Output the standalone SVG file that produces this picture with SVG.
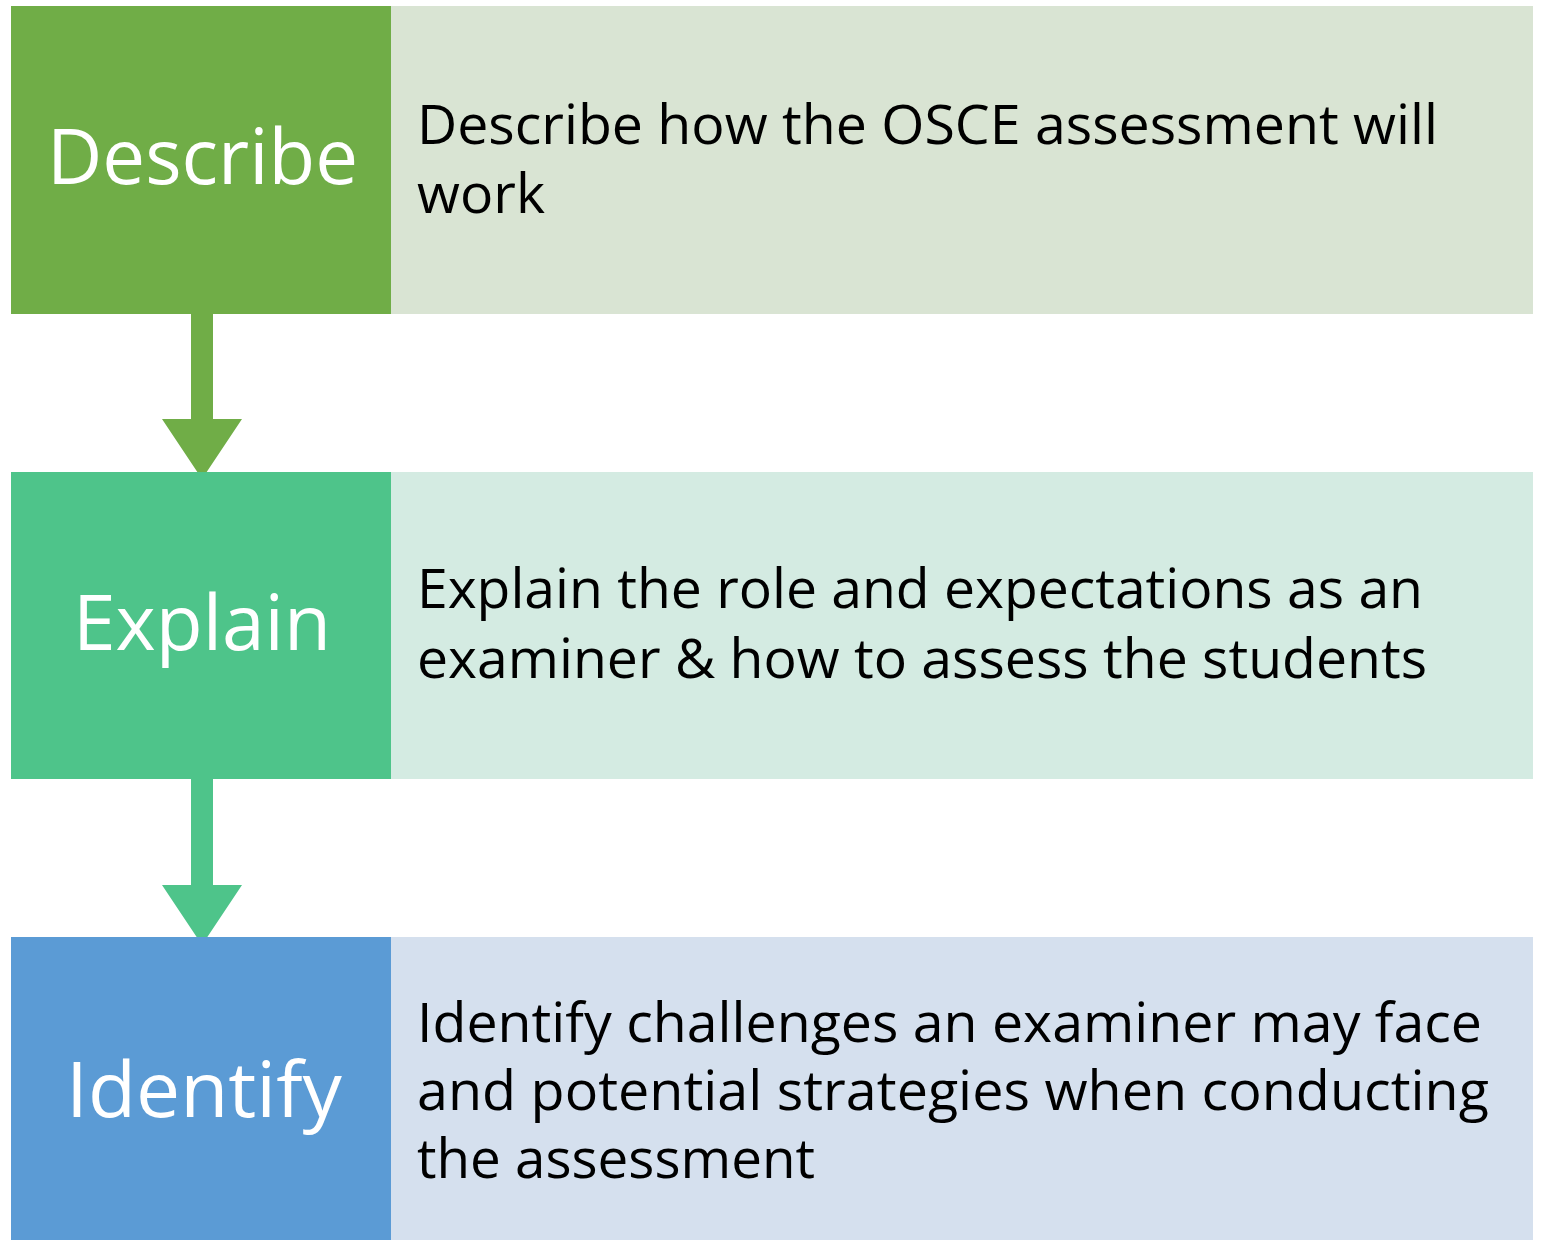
<svg xmlns="http://www.w3.org/2000/svg" width="1545" height="1240" viewBox="0 0 1545 1240">
<style>
.lbl{font-family:"Open Sans","Noto Sans",sans-serif;font-size:77px;fill:#ffffff}
.txt{font-family:"Open Sans","Noto Sans",sans-serif;font-size:55px;fill:#000000}
</style>
<rect width="1545" height="1240" fill="#ffffff"/>
<g id="connectors">
<path d="M191 314 V419 H162 L202 479 L242 419 H213 V314 Z" fill="#70AD47"/>
<path d="M191 779 V885 H162 L202 945 L242 885 H213 V779 Z" fill="#4EC48A"/>
</g>
<g id="node-describe">
<rect x="391" y="6" width="1142" height="308" fill="#D9E4D3"/>
<rect x="11" y="6" width="380" height="308" fill="#70AD47"/>
<text class="lbl" x="47" y="184" textLength="311" lengthAdjust="spacingAndGlyphs">Describe</text>
<text class="txt" x="417" y="144" textLength="1021" lengthAdjust="spacingAndGlyphs">Describe how the OSCE assessment will</text>
<text class="txt" x="417" y="213" textLength="128" lengthAdjust="spacingAndGlyphs">work</text>
</g>
<g id="node-explain">
<rect x="391" y="472" width="1142" height="307" fill="#D4EBE2"/>
<rect x="11" y="472" width="380" height="307" fill="#4EC48A"/>
<text class="lbl" x="73" y="650" textLength="258" lengthAdjust="spacingAndGlyphs">Explain</text>
<text class="txt" x="417" y="608" textLength="1006" lengthAdjust="spacingAndGlyphs">Explain the role and expectations as an</text>
<text class="txt" x="417" y="678" textLength="1010" lengthAdjust="spacingAndGlyphs">examiner &amp; how to assess the students</text>
</g>
<g id="node-identify">
<rect x="391" y="937" width="1142" height="303" fill="#D5E0EE"/>
<rect x="11" y="937" width="380" height="303" fill="#5B9BD5"/>
<text class="lbl" x="66" y="1117" textLength="276" lengthAdjust="spacingAndGlyphs">Identify</text>
<text class="txt" x="417" y="1042" textLength="1065" lengthAdjust="spacingAndGlyphs">Identify challenges an examiner may face</text>
<text class="txt" x="417" y="1110" textLength="1072" lengthAdjust="spacingAndGlyphs">and potential strategies when conducting</text>
<text class="txt" x="417" y="1178" textLength="398" lengthAdjust="spacingAndGlyphs">the assessment</text>
</g>
</svg>
